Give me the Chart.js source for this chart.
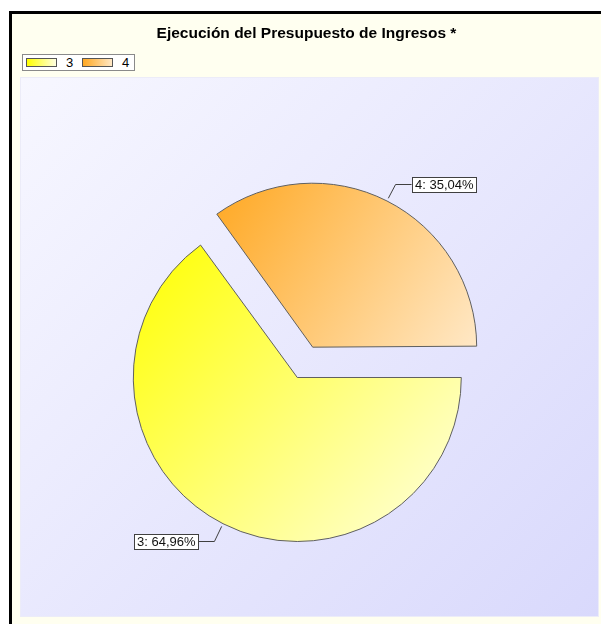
<!DOCTYPE html>
<html>
<head>
<meta charset="utf-8">
<script src="https://cdn.jsdelivr.net/npm/chart.js@4.4.1/dist/chart.umd.min.js"></script>
<style>
  body { margin: 0; background: #fff; }
  #wrap { position: relative; width: 601px; height: 624px; overflow: hidden; font-family: Arial, "Liberation Sans", sans-serif; }
  #chart { position: absolute; left: 0; top: 0; }
  #title { position: absolute; left: 12px; top: 24px; width: 589px; text-align: center; font-weight: bold; font-size: 15.5px; line-height: 18px; color: #000; }
  #legend { position: absolute; left: 22px; top: 54px; width: 113px; height: 17px; box-sizing: border-box; border: 1px solid #8a8a8a; background: #fff; }
  #legend .sw { position: absolute; top: 3px; width: 31px; height: 9px; box-sizing: border-box; border: 1px solid #555; }
  #legend .tx { position: absolute; top: 0; font-size: 13px; line-height: 15px; color: #000; }
</style>
</head>
<body>
<div id="wrap">
  <canvas id="chart" width="601" height="624"></canvas>
  <div id="title">Ejecución del Presupuesto de Ingresos *</div>
  <div id="legend"></div>
</div>
<script>
const labels = ["3", "4"];
const values = [64.96, 35.04];
const colorsFrom = ["#ffff00", "#ffa822"];
const colorsTo = ["#ffffe2", "#ffe8c6"];
const explode = [0, 136];

const RADIUS = 164;
const total = values.reduce((a, b) => a + b, 0);

// legend (html)
const legend = document.getElementById("legend");
let lx = 3;
labels.forEach((l, i) => {
  const sw = document.createElement("span");
  sw.className = "sw";
  sw.style.left = lx + "px";
  sw.style.background = "linear-gradient(to right, " + colorsFrom[i] + ", " + colorsTo[i] + ")";
  legend.appendChild(sw);
  const tx = document.createElement("span");
  tx.className = "tx";
  tx.style.left = (lx + 40) + "px";
  tx.textContent = l;
  legend.appendChild(tx);
  lx += 56;
});

function arcBox(a0, a1, r) {
  const xs = [0, Math.cos(a0) * r, Math.cos(a1) * r];
  const ys = [0, Math.sin(a0) * r, Math.sin(a1) * r];
  for (let k = 0; k <= 4; k++) {
    const a = k * Math.PI / 2;
    if (a > a0 && a < a1) { xs.push(Math.cos(a) * r); ys.push(Math.sin(a) * r); }
  }
  return [Math.min(...xs), Math.min(...ys), Math.max(...xs), Math.max(...ys)];
}

function sliceFill(c) {
  const chart = c.chart;
  const area = chart.chartArea;
  const i = c.dataIndex;
  if (!area) return colorsFrom[i];
  const cx = (area.left + area.right) / 2;
  const cy = (area.top + area.bottom) / 2;
  let before = 0;
  for (let k = 0; k < i; k++) before += values[k];
  const a0 = before / total * Math.PI * 2;
  const a1 = (before + values[i]) / total * Math.PI * 2;
  const b = arcBox(a0, a1, RADIUS);
  const g = chart.ctx.createLinearGradient(cx + b[0], cy + b[1], cx + b[2], cy + b[3]);
  g.addColorStop(0, colorsFrom[i]);
  g.addColorStop(1, colorsTo[i]);
  return g;
}

// chart.js grows an exploded slice by offset/4*(1-sin(circ)); keep all slices the same size
function growth(off, circ) {
  return off / 4 * (1 - Math.sin(Math.min(Math.PI, circ)));
}

const sameRadius = {
  id: "sameRadius",
  afterDatasetsUpdate(chart) {
    chart.getDatasetMeta(0).data.forEach(el => {
      el.outerRadius = RADIUS - growth(el.options.offset || 0, el.circumference);
    });
  }
};

const background = {
  id: "background",
  beforeDraw(chart) {
    const ctx = chart.ctx;
    ctx.save();
    ctx.fillStyle = "#fff";
    ctx.fillRect(0, 0, 601, 624);
    ctx.fillStyle = "#fffff0";
    ctx.fillRect(12, 14, 589, 610);
    ctx.fillStyle = "#000";
    ctx.fillRect(9, 11, 3, 613);
    ctx.fillRect(9, 11, 592, 3);
    const g = ctx.createLinearGradient(20, 77, 599, 617);
    g.addColorStop(0, "#f7f7ff");
    g.addColorStop(1, "#d9d9fc");
    ctx.fillStyle = g;
    ctx.fillRect(20, 77, 579, 540);
    ctx.strokeStyle = "#ececf8";
    ctx.lineWidth = 1;
    ctx.strokeRect(20.5, 77.5, 578, 539);
    ctx.restore();
  }
};

const sliceLabels = {
  id: "sliceLabels",
  afterDatasetsDraw(chart) {
    const ctx = chart.ctx;
    const meta = chart.getDatasetMeta(0);
    ctx.save();
    ctx.font = "13px Arial, 'Liberation Sans', sans-serif";
    ctx.textBaseline = "middle";
    meta.data.forEach((el, i) => {
      const p = el.getProps(["x", "y", "startAngle", "endAngle", "outerRadius", "circumference"], true);
      const off = el.options.offset || 0;
      const shift = off / 4;
      const mid = (p.startAngle + p.endAngle) / 2;
      const dx = Math.cos(mid), dy = Math.sin(mid);
      const cx = p.x + dx * shift, cy = p.y + dy * shift;
      const r = p.outerRadius + growth(off, p.circumference);
      const x0 = cx + dx * (r + 3), y0 = cy + dy * (r + 3);
      const x1 = cx + dx * (r + 19), y1 = Math.round(cy + dy * (r + 19)) + 0.5;
      const side = dx >= 0 ? 1 : -1;
      const x2 = x1 + side * 16;
      ctx.strokeStyle = "#404040";
      ctx.lineWidth = 1;
      ctx.beginPath();
      ctx.moveTo(x0, y0);
      ctx.lineTo(x1, y1);
      ctx.lineTo(x2, y1);
      ctx.stroke();
      const text = labels[i] + ": " + (values[i] / total * 100).toFixed(2).replace(".", ",") + "%";
      const w = Math.round(ctx.measureText(text).width + 5);
      const h = 15;
      const bx = Math.round(side > 0 ? x2 : x2 - w) + 0.5;
      const by = Math.round(y1 - h / 2) + 0.5;
      ctx.fillStyle = "#fff";
      ctx.fillRect(bx, by, w, h);
      ctx.strokeStyle = "#404040";
      ctx.strokeRect(bx, by, w, h);
      ctx.fillStyle = "#111";
      ctx.textAlign = "left";
      ctx.fillText(text, bx + 2.5, by + h / 2 + 0.5);
    });
    ctx.restore();
  }
};

new Chart(document.getElementById("chart"), {
  type: "pie",
  data: {
    labels: labels,
    datasets: [{
      data: values,
      backgroundColor: sliceFill,
      borderColor: "#606060",
      borderWidth: 1,
      offset: explode,
      hoverOffset: 0,
      clip: false
    }]
  },
  options: {
    responsive: false,
    animation: false,
    devicePixelRatio: 1,
    events: [],
    rotation: 90,
    radius: RADIUS,
    layout: { padding: { left: 20, right: 26.4, top: 200, bottom: 69 } },
    plugins: {
      legend: { display: false },
      title: { display: false },
      tooltip: { enabled: false }
    }
  },
  plugins: [sameRadius, background, sliceLabels]
});
</script>
</body>
</html>
